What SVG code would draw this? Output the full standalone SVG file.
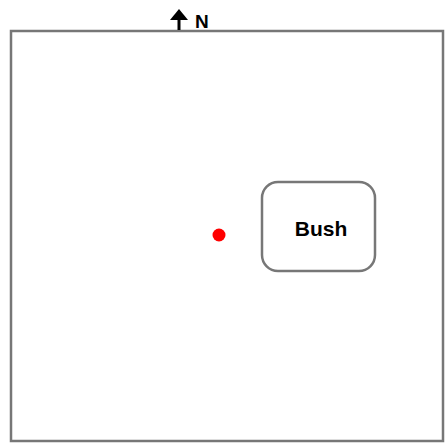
<svg xmlns="http://www.w3.org/2000/svg" width="445" height="444" viewBox="0 0 445 444">
<style>
.frame{fill:#fff;stroke:#777;stroke-width:2.5}
.lbl{font-family:"Liberation Sans",Arial,sans-serif;font-weight:bold;fill:#000}
</style>
<rect width="445" height="444" fill="#fff"/>
<g id="plot"><rect class="frame" x="11" y="31" width="432" height="410"/></g>
<g id="north">
<line x1="179" y1="16" x2="179" y2="30" stroke="#000" stroke-width="3"/>
<polygon points="170,20 179,9 188,20" fill="#000"/>
<text class="lbl" x="195" y="28" font-size="19">N</text>
</g>
<g id="bush"><rect class="frame" x="262" y="182" width="113" height="89" rx="16"/>
<text class="lbl" x="321" y="236" font-size="21" text-anchor="middle">Bush</text></g>
<g id="dot"><circle cx="219" cy="235" r="6.5" fill="#f00"/></g>
<g id="connectors"></g>
</svg>
